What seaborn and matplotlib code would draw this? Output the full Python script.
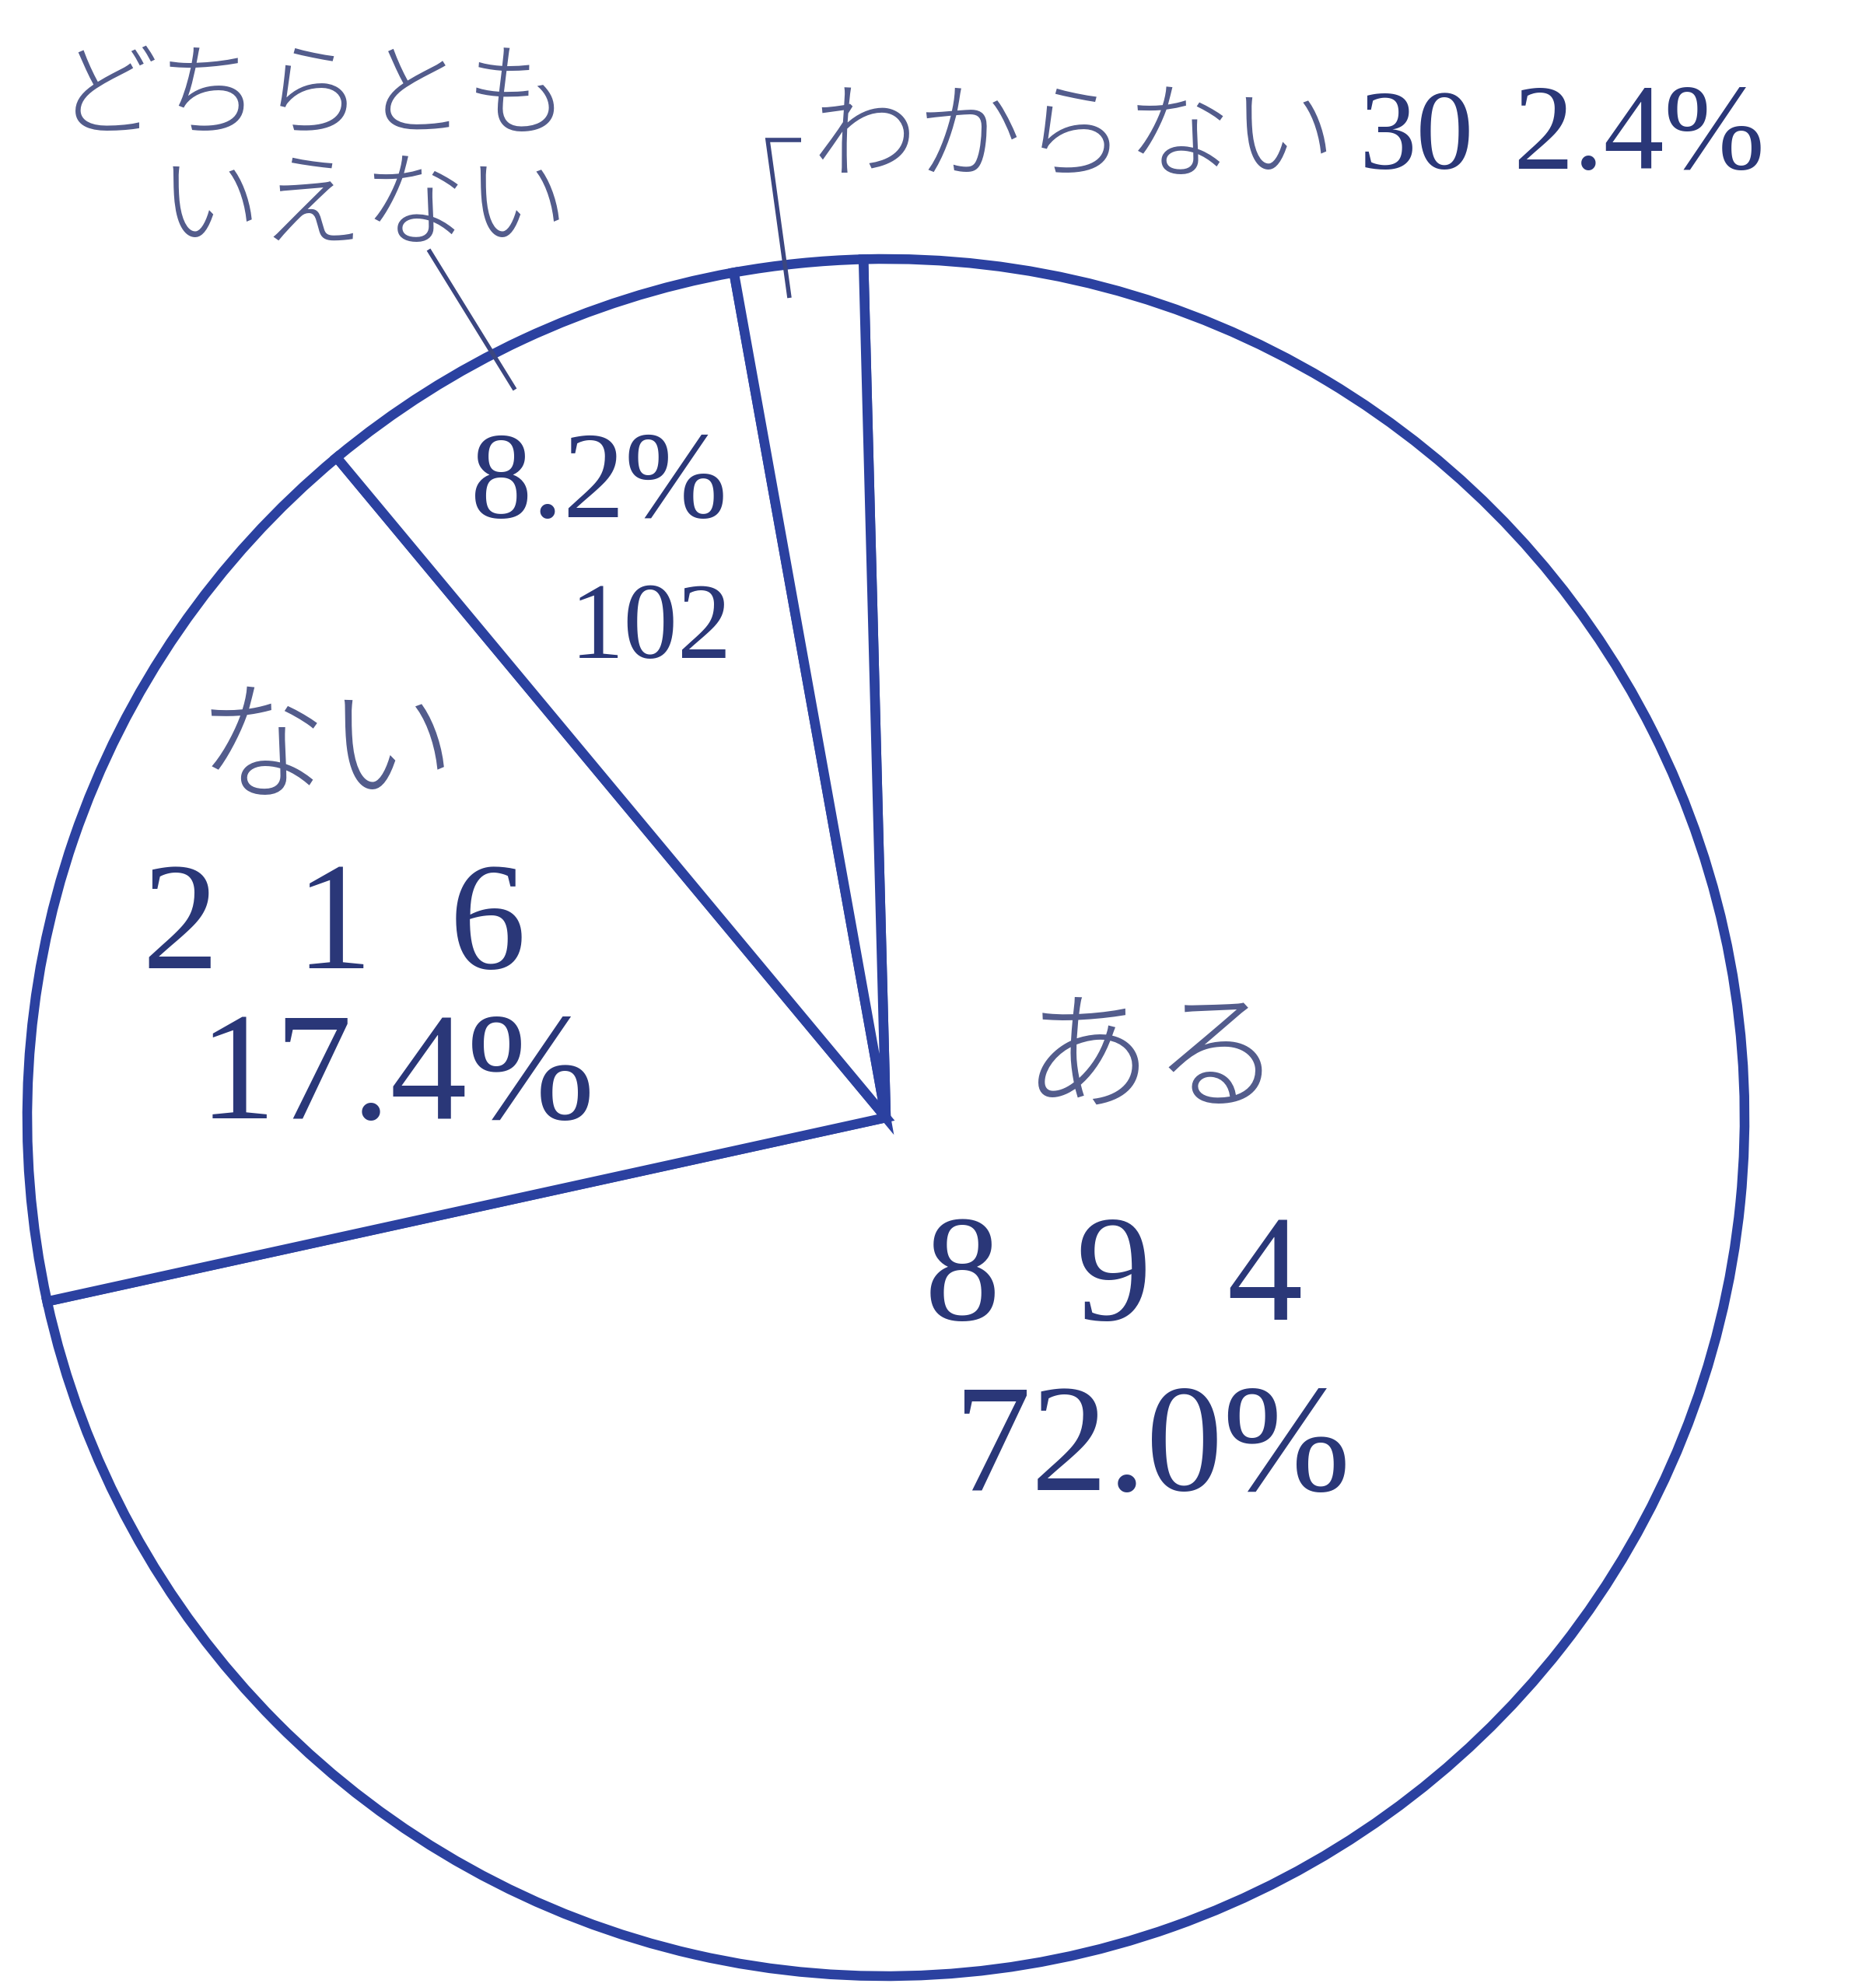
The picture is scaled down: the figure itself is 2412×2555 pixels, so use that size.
import matplotlib
matplotlib.use("Agg")
import matplotlib.pyplot as plt
import seaborn as sns
import pandas as pd

# ---- data ----
categories = ["ある", "ない", "どちらともいえない", "わからない"]
counts = [894, 216, 102, 30]
percents = ["72.0%", "17.4%", "8.2%", "2.4%"]
count_labels = ["8  9  4", "2  1  6", "102", "30"]
name_labels = ["ある", "ない", "どちらとも\nいえない", "わからない"]

sns.set_theme(style="white")
plt.rcParams['font.family'] = ['Liberation Serif', 'Noto Sans CJK JP', 'DejaVu Sans']

W, H, DPI = 2412, 2555, 100
fig = plt.figure(figsize=(W / DPI, H / DPI), dpi=DPI, facecolor='white')
ax = fig.add_axes([0, 0, 1, 1])
CX, CY, R = 1139, 1437, 1104


def P(x, y):
    return ((x - CX) / R, (CY - y) / R)


edge = "#2b41a0"
jp_color = "#535c8c"
num_color = "#2a3778"
lead = "#3b4680"

df = pd.DataFrame(dict(category=categories, count=counts))
ax.pie(df["count"], startangle=91.5, counterclock=False, radius=1, center=(0, 0),
       colors=["white"] * len(df),
       wedgeprops=dict(edgecolor=edge, linewidth=9, joinstyle='miter'))
ax.set_xlim((0 - CX) / R, (W - CX) / R)
ax.set_ylim((CY - H) / R, CY / R)
ax.set_aspect('auto')
ax.axis('off')

jp = dict(family=['Noto Sans CJK JP', 'DejaVu Sans'], color=jp_color, fontweight='light')
num = dict(family=['Liberation Serif', 'DejaVu Serif'], color=num_color)

# ある
ax.text(*P(1482, 1366), name_labels[0], fontsize=120, ha='center', va='center', **jp)
ax.text(*P(1432, 1697), count_labels[0], fontsize=140, ha='center', va='baseline', **num)
ax.text(*P(1482, 1916), percents[0], fontsize=142, ha='center', va='baseline', **num)
# ない
ax.text(*P(420, 968), name_labels[1], fontsize=120, ha='center', va='center', **jp)
ax.text(*P(430, 1245), count_labels[1], fontsize=142, ha='center', va='baseline', **num)
ax.text(*P(510, 1438), percents[1], fontsize=142, ha='center', va='baseline', **num)
# どちらともいえない
ax.text(*P(770, 665), percents[2], fontsize=114, ha='center', va='baseline', **num)
ax.text(*P(837, 846), count_labels[2], fontsize=100, ha='center', va='baseline', **num)
ax.text(*P(732, 198), name_labels[2], fontsize=95, ha='right', va='center',
        multialignment='right', linespacing=1.05, **jp)
# わからない
ax.text(*P(1044, 180), name_labels[3], fontsize=97, ha='left', va='center', **jp)
ax.text(*P(1748, 217), count_labels[3], fontsize=106, ha='left', va='baseline', **num)
ax.text(*P(1945, 217), percents[3], fontsize=112, ha='left', va='baseline', **num)

# leader lines
x1, y1 = zip(P(551, 321), P(662, 501))
ax.plot(x1, y1, color=lead, lw=4, solid_capstyle='butt')
x2, y2 = zip(P(1030, 180), P(987, 180), P(1015, 383))
ax.plot(x2, y2, color=lead, lw=4, solid_capstyle='butt', solid_joinstyle='miter')

fig.savefig("out.png", dpi=DPI, facecolor='white')
